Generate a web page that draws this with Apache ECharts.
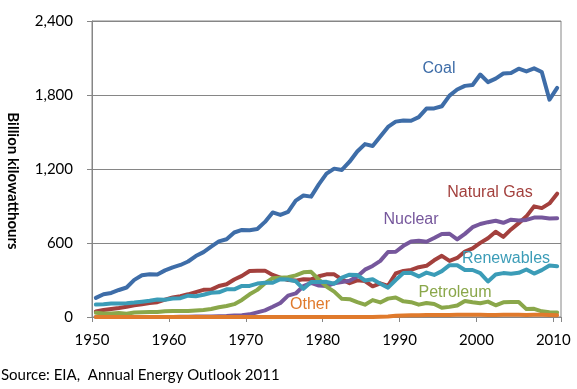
<!DOCTYPE html>
<html>
<head>
<meta charset="utf-8">
<script src="https://cdn.jsdelivr.net/npm/echarts@6/dist/echarts.min.js"></script>
<style>html,body{margin:0;padding:0;background:#fff;}#c{width:577px;height:389px;}</style>
</head>
<body>
<div id="c"></div>
<script>
const years = [];
for (let y = 1950; y <= 2010; y++) years.push(y);
const xTickLabels = ['1950','1960','1970','1980','1990','2000','2010'];
const yTickLabels = ['0','600','1,200','1,800','2,400'];

const coal = [155,185,195,219,239,301,338,346,344,378,403,422,450,494,526,571,613,630,685,706,704,713,771,848,828,853,944,985,976,1075,1162,1203,1192,1259,1342,1402,1386,1464,1541,1584,1594,1591,1621,1690,1691,1709,1795,1845,1874,1881,1966,1904,1933,1974,1978,2013,1991,2016,1986,1762,1858];
const naturalGas = [45,57,65,73,83,95,104,114,120,141,158,169,184,202,220,222,251,265,304,333,373,374,376,341,320,300,295,306,305,330,346,346,305,274,297,292,249,273,253,353,373,382,404,415,460,496,455,479,531,556,601,639,691,650,710,761,816,897,883,921,1000];
const nuclear = [0,0,0,0,0,0,0,0,0.2,0.2,0.5,1.7,2.3,3.2,3.3,3.7,5.5,7.7,12.5,13.9,21.8,38,54,83,114,173,191,251,276,255,251,273,283,294,328,384,414,455,527,529,577,613,619,610,640,673,675,629,674,728,754,769,780,764,789,782,787,806,806,799,800];
const petroleum = [34,29,29,32,27,37,38,40,40,47,48,49,48,52,57,65,79,89,104,138,184,220,274,315,318,322,338,362,366,304,246,206,147,144,120,100,137,118,149,158,127,120,100,113,106,75,82,93,129,119,111,125,95,119,121,122,64,66,46,39,37];
const renewables = [101,104,110,110,112,117,124,132,142,140,150,153,173,169,180,197,200,224,224,252,252,271,277,278,307,304,290,228,284,284,285,270,319,343,340,296,306,269,238,300,357,358,329,360,341,372,420,420,381,381,356,288,344,356,351,358,385,352,380,418,412];
const other = [0,0,0,0,0,0,0,0,0,0,0,0,0,0,0,0,0,0,0,0,0,0,0,0,0,0,0,0,0,0,0,0,0,0,0,0,0,3,5,10,13,14,15,16,16,17,17,18,18,18,18,16,17,18,18,18,17,18,18,16,15];

const seriesDefs = [
  {name:'Coal', data:coal, color:'#3E6DA8'},
  {name:'Natural Gas', data:naturalGas, color:'#A3403D'},
  {name:'Nuclear', data:nuclear, color:'#76579C'},
  {name:'Petroleum', data:petroleum, color:'#8AA74A'},
  {name:'Renewables', data:renewables, color:'#3B9CB7'},
  {name:'Other', data:other, color:'#E07A2C'}
];

const labels = [
  {text:'Coal', x:439, y:69, color:'#3E6DA8'},
  {text:'Natural Gas', x:490, y:193, color:'#A3403D'},
  {text:'Nuclear', x:411, y:220, color:'#76579C'},
  {text:'Renewables', x:506, y:259, color:'#3B9CB7'},
  {text:'Petroleum', x:455, y:293, color:'#8AA74A'},
  {text:'Other', x:310, y:305, color:'#E07A2C'}
];

const axisColor = '#868686';
const chart = echarts.init(document.getElementById('c'), null, {renderer:'canvas'});
chart.setOption({
  animation: false,
  backgroundColor: '#fff',
  grid: {left: 92, right: 16, top: 21, bottom: 72, show: true, borderColor: axisColor, borderWidth: 1},
  xAxis: {
    type: 'value', min: 0, max: 61, interval: 10,
    axisLine: {show: true, lineStyle: {color: axisColor, width: 1}},
    axisTick: {show: true, length: 5, lineStyle: {color: axisColor}},
    splitLine: {show: false},
    axisLabel: {
      margin: 16, color: '#000', fontFamily: 'Lato', fontSize: 15,
      formatter: v => (v % 10 === 0 ? xTickLabels[v / 10] : '')
    }
  },
  yAxis: {
    type: 'value', min: 0, max: 2400, interval: 600,
    axisLine: {show: true, lineStyle: {color: axisColor, width: 1}},
    axisTick: {show: true, length: 5, lineStyle: {color: axisColor}},
    splitLine: {show: true, lineStyle: {color: axisColor, width: 1}},
    axisLabel: {
      margin: 19, color: '#000', fontFamily: 'Lato', fontSize: 15,
      formatter: v => yTickLabels[Math.round(v / 600)]
    }
  },
  series: seriesDefs.map(s => ({
    name: s.name, type: 'line', showSymbol: false, symbol: 'none',
    lineStyle: {color: s.color, width: 4, cap: 'round', join: 'round'},
    itemStyle: {color: s.color},
    data: s.data.map((v, i) => [i + 0.5, v])
  })),
  graphic: [
    ...labels.map(l => ({
      type: 'text', x: l.x, y: l.y, z: 100,
      style: {text: l.text, fill: l.color, font: '16px "Liberation Sans", Arial, sans-serif', align: 'center', verticalAlign: 'middle'}
    })),
    {type: 'text', x: 13, y: 181, rotation: -Math.PI / 2,
     style: {text: 'Billion kilowatthours', fill: '#000', font: 'bold 15px Lato, sans-serif', align: 'center', verticalAlign: 'middle'}},
    {type: 'text', x: 1, y: 375,
     style: {text: 'Source: EIA,  Annual Energy Outlook 2011', fill: '#000', font: '15px Lato, sans-serif', align: 'left', verticalAlign: 'middle'}}
  ]
});
</script>
</body>
</html>
